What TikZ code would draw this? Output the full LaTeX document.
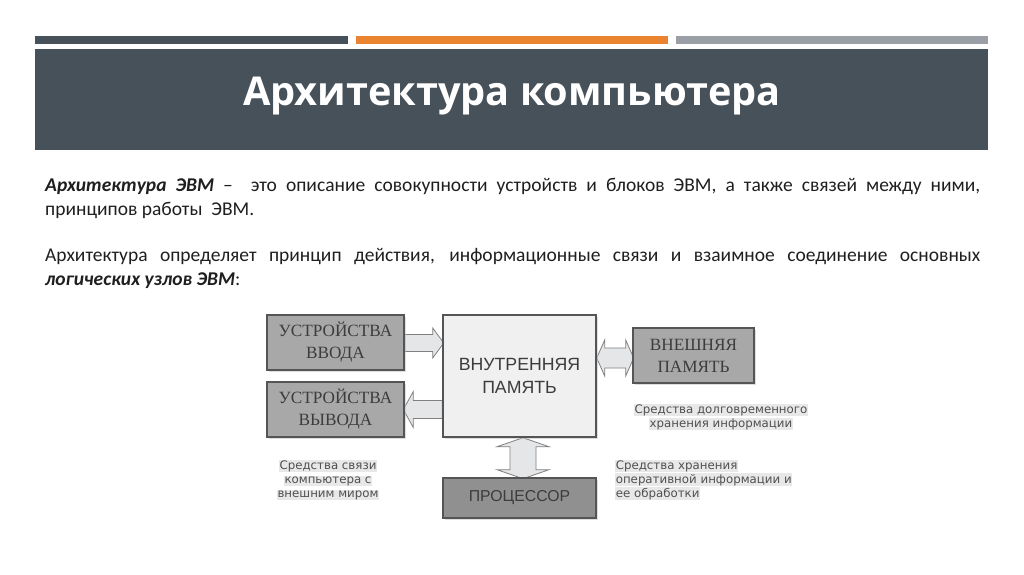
\documentclass[tikz,border=0pt]{standalone}
\usepackage{fontspec}
\setmainfont{Carlito}
\newfontfamily\titlefont{Open Sans}
\newfontfamily\serifdiag{Liberation Serif}
\newfontfamily\sansdiag{Liberation Sans}
\newfontfamily\capfont{DejaVu Sans}
\usetikzlibrary{calc,shadows}
\pgfdeclarelayer{bg}\pgfdeclarelayer{arr}\pgfsetlayers{bg,arr,main}
\definecolor{slate}{HTML}{46515A}
\definecolor{orangebar}{HTML}{EA8430}
\definecolor{graybar}{HTML}{9AA0A6}
\definecolor{boxgray}{HTML}{A8A8A8}
\definecolor{procgray}{HTML}{909090}
\definecolor{memfill}{HTML}{F0F0F0}
\definecolor{arrfill}{HTML}{E4E6E8}
\definecolor{edge}{HTML}{555555}
\definecolor{captext}{HTML}{505050}
\definecolor{boxtext}{HTML}{3C3C3C}
\tikzset{
  body/.style={anchor=base west,inner sep=0pt,text=black!88,font=\fontsize{19.5}{24}\selectfont},
  blk/.style={draw=edge,line width=1.4pt,inner sep=0pt,align=center,text=boxtext,
     drop shadow={shadow xshift=1.5pt,shadow yshift=-1.5pt,fill=black!25}},
  serifbox/.style={blk,fill=boxgray,font=\serifdiag\fontsize{17.2}{22}\selectfont},
  barrow/.style={draw=black!50,line width=0.8pt,fill=arrfill,line join=miter},
  capline/.style={anchor=base,inner sep=0.6pt,fill=black!9,text=captext,font=\capfont\fontsize{11.8}{13}\selectfont},
}
\begin{document}
\begin{tikzpicture}[x=1pt,y=-1pt]
\begin{pgfonlayer}{bg}
\fill[white] (0,0) rectangle (1024,574);
\end{pgfonlayer}
\useasboundingbox (0,0) rectangle (1024,574);
% header bars
\fill[slate] (35,36) rectangle (348,44);
\fill[orangebar] (356,36) rectangle (668,44);
\fill[graybar] (676,36) rectangle (988,44);
\fill[slate] (35,49) rectangle (988,150);
\node[text=white,font=\titlefont\bfseries\fontsize{39.7}{44}\selectfont,inner sep=0pt] (title) at (512,96) {Архитектура компьютера};
% body text
\node[body] (l1) at (45,191) {\makebox[935pt][s]{\textbf{\textit{Архитектура ЭВМ}} –\ \ это описание совокупности устройств и блоков ЭВМ, а также связей между ними,}};
\node[body] (l2) at (45,215) {принципов работы\ \ ЭВМ.};
\node[body] (l3) at (45,261) {\makebox[935pt][s]{Архитектура определяет принцип действия, информационные связи и взаимное соединение основных}};
\node[body] (l4) at (45,285) {\textbf{\textit{логических узлов ЭВМ}}:};
% boxes
\node[serifbox,minimum width=137pt,minimum height=55pt] (in) at (335.5,342.5) {УСТРОЙСТВА\\ВВОДА};
\node[serifbox,minimum width=137pt,minimum height=55pt] (out) at (335.5,409.5) {УСТРОЙСТВА\\ВЫВОДА};
\node[blk,fill=memfill,font=\sansdiag\fontsize{17.7}{23}\selectfont,minimum width=153pt,minimum height=122pt] (mem) at (519.5,376) {ВНУТРЕННЯЯ\\ПАМЯТЬ};
\node[serifbox,minimum width=121pt,minimum height=55pt] (ext) at (693.5,355.5) {ВНЕШНЯЯ\\ПАМЯТЬ};
\node[blk,fill=procgray,font=\sansdiag\fontsize{15.8}{22}\selectfont,minimum width=153pt,minimum height=40pt] (proc) at (519.5,498) {ПРОЦЕССОР};
% block arrows
\begin{pgfonlayer}{arr}
\draw[barrow] ($(in.east)+(0,0.5)$) -- ++(0,-8.5) -- ++(28,0) -- ++(0,-6.5) -- ++(11,15) -- ++(-11,15) -- ++(0,-6.5) -- ++(-28,0) -- cycle;
\draw[barrow] (mem.west |- out.east) -- ++(0,-9) -- ++(-29,0) -- ++(0,-9) -- ++(-10,18) -- ++(10,18) -- ++(0,-9) -- ++(29,0) -- cycle;
\draw[barrow] ($(mem.east)+(0,-18)$) -- ++(8,-18) -- ++(0,8) -- ++(21,0) -- ++(0,-8) -- ++(8,18) -- ++(-8,18) -- ++(0,-8) -- ++(-21,0) -- ++(0,8) -- cycle;
\draw[barrow] ($(mem.south)+(3.5,0)$) -- ++(26,9) -- ++(-13,0) -- ++(0,23) -- ++(13,0) -- ++(-26,9) -- ++(-26,-9) -- ++(13,0) -- ++(0,-23) -- ++(-13,0) -- cycle;
\end{pgfonlayer}
% captions
\node[capline] (c1a) at (328,469) {Средства связи};
\node[capline] (c1b) at (328,483) {компьютера с};
\node[capline] (c1c) at (328,497) {внешним миром};
\node[capline] (c2a) at (721,413) {Средства долговременного};
\node[capline] (c2b) at (721,427) {хранения информации};
\node[capline,anchor=base west] (c3a) at (615,469) {Средства хранения};
\node[capline,anchor=base west] (c3b) at (615,483) {оперативной информации и};
\node[capline,anchor=base west] (c3c) at (615,497) {ее обработки};
\end{tikzpicture}
\end{document}
